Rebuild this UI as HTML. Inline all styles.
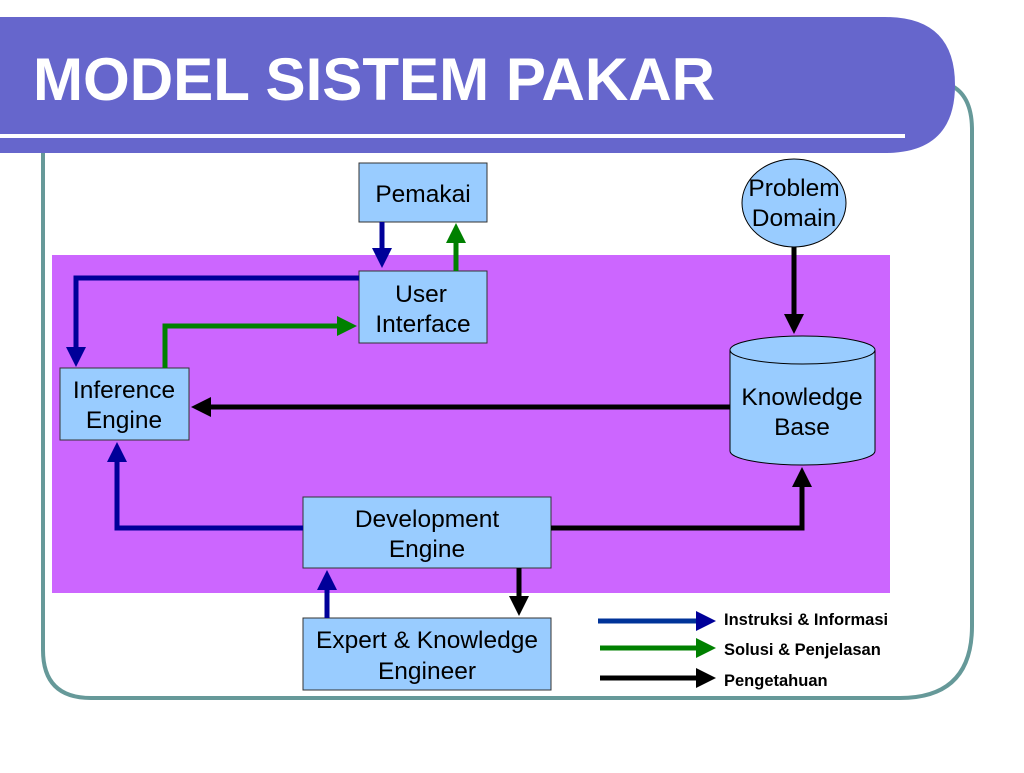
<!DOCTYPE html>
<html><head><meta charset="utf-8"><style>
body{margin:0;width:1024px;height:768px;background:#fff;overflow:hidden;font-family:"Liberation Sans",sans-serif}
</style></head><body>
<svg width="1024" height="768" viewBox="0 0 1024 768" xmlns="http://www.w3.org/2000/svg" font-family="Liberation Sans, sans-serif">
<defs>
<marker id="hb" markerWidth="4" markerHeight="4" refX="2" refY="2" orient="auto" markerUnits="strokeWidth"><path d="M0,0 L4,2 L0,4 z" fill="#000099"/></marker>
<marker id="hg" markerWidth="4" markerHeight="4" refX="2" refY="2" orient="auto" markerUnits="strokeWidth"><path d="M0,0 L4,2 L0,4 z" fill="#008000"/></marker>
<marker id="hk" markerWidth="4" markerHeight="4" refX="2" refY="2" orient="auto" markerUnits="strokeWidth"><path d="M0,0 L4,2 L0,4 z" fill="#000"/></marker>
</defs>
<path d="M43,120 L43,650 Q43,698 91,698 L900,698 Q972,698 972,626 L972,130 Q972,95 950,85" fill="none" stroke="#669999" stroke-width="4"/>
<path d="M0,17 L885,17 Q955,17 955,85 Q955,153 885,153 L0,153 Z" fill="#6666CC"/>
<rect x="0" y="134" width="905" height="4" fill="#fff"/>
<text x="33" y="100" font-size="60" font-weight="bold" fill="#fff" textLength="682" lengthAdjust="spacingAndGlyphs">MODEL SISTEM PAKAR</text>
<rect x="52" y="255" width="838" height="338" fill="#CC66FF"/>
<g stroke="#333" stroke-width="1" fill="#99CCFF">
<rect x="359" y="163" width="128" height="59"/>
<rect x="359" y="271" width="128" height="72"/>
<rect x="60" y="368" width="129" height="72"/>
<rect x="303" y="497" width="248" height="71"/>
<rect x="303" y="618" width="248" height="72"/>
<ellipse cx="794" cy="203" rx="52" ry="44" stroke="#000"/>
<path d="M730,350 L730,451 A72.5,14 0 0 0 875,451 L875,350" stroke="#000"/>
<ellipse cx="802.5" cy="350" rx="72.5" ry="14" stroke="#000"/>
</g>
<g font-size="24.5" fill="#000" text-anchor="middle">
<text x="423" y="202">Pemakai</text>
<text x="421" y="302">User</text><text x="423" y="332">Interface</text>
<text x="124" y="398">Inference</text><text x="124" y="428">Engine</text>
<text x="794" y="196">Problem</text><text x="794" y="226">Domain</text>
<text x="802" y="405">Knowledge</text><text x="802" y="435">Base</text>
<text x="427" y="527">Development</text><text x="427" y="557">Engine</text>
<text x="427" y="648">Expert &amp; Knowledge</text><text x="427" y="679">Engineer</text>
</g>
<g fill="none" stroke-width="5">
<path d="M382,222 L382,258" stroke="#000099" marker-end="url(#hb)"/>
<path d="M456,271 L456,233" stroke="#008000" marker-end="url(#hg)"/>
<path d="M359,278 L76,278 L76,357" stroke="#000099" marker-end="url(#hb)"/>
<path d="M165,368 L165,326 L347,326" stroke="#008000" marker-end="url(#hg)"/>
<path d="M730,407 L201,407" stroke="#000" marker-end="url(#hk)"/>
<path d="M303,528 L117,528 L117,452" stroke="#000099" marker-end="url(#hb)"/>
<path d="M551,528 L802,528 L802,477" stroke="#000" marker-end="url(#hk)"/>
<path d="M794,247 L794,324" stroke="#000" marker-end="url(#hk)"/>
<path d="M327,618 L327,580" stroke="#000099" marker-end="url(#hb)"/>
<path d="M519,568 L519,606" stroke="#000" marker-end="url(#hk)"/>
<path d="M598,621 L706,621" stroke="#003399" marker-end="url(#hb)"/>
<path d="M600,648 L706,648" stroke="#008000" marker-end="url(#hg)"/>
<path d="M600,678 L706,678" stroke="#000" marker-end="url(#hk)"/>
</g>
<g font-size="16.5" font-weight="bold" fill="#000">
<text x="724" y="625">Instruksi &amp; Informasi</text>
<text x="724" y="655">Solusi &amp; Penjelasan</text>
<text x="724" y="686">Pengetahuan</text>
</g>
</svg>
</body></html>
